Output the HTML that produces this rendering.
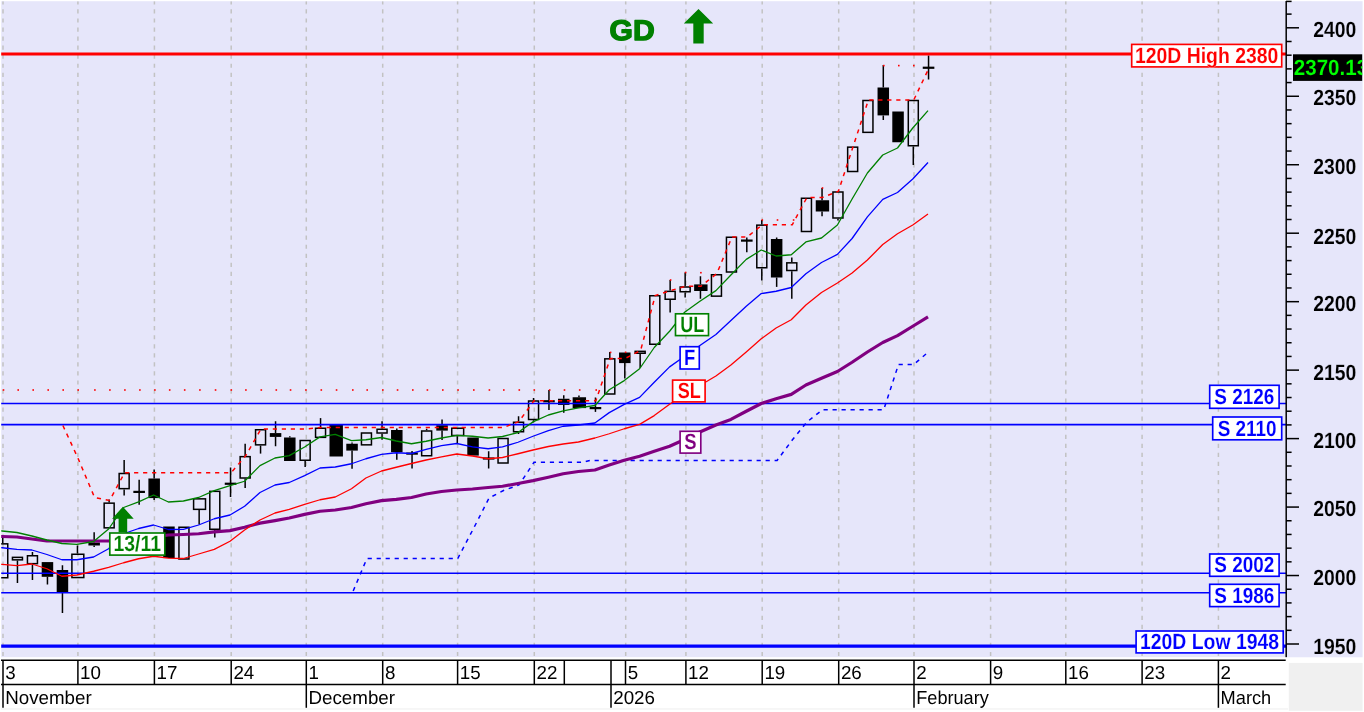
<!DOCTYPE html>
<html lang="en"><head><meta charset="utf-8"><title>GD chart</title>
<style>html,body{margin:0;padding:0;background:#fff;}body{width:1364px;height:712px;overflow:hidden;position:relative;}svg{position:absolute;left:0;top:0;display:block;}text{font-family:"Liberation Sans",Arial,sans-serif;text-rendering:geometricPrecision;}.b{font-weight:bold;}</style></head><body>
<svg width="1364" height="712" viewBox="0 0 1364 712">
<rect x="0" y="0" width="1364" height="712" fill="#ffffff"/>
<rect x="1.2" y="1.2" width="1361.4" height="656.1" fill="#e6e6fa"/>
<rect x="1288.8" y="662.9" width="73.8" height="47.9" fill="#f0f0f0"/>
<rect x="1" y="708.2" width="1287" height="1.5" fill="#f4f4f4"/>
<defs><clipPath id="plot"><rect x="1.2" y="1.2" width="1361.4" height="656.1"/></clipPath></defs>
<g clip-path="url(#plot)">
<g stroke="#c2c2c2" stroke-width="1.5" stroke-dasharray="4.2 4.85" stroke-dashoffset="0.9" fill="none">
<line x1="3" y1="1.2" x2="3" y2="657"/>
<line x1="77.9" y1="1.2" x2="77.9" y2="657"/>
<line x1="154.4" y1="1.2" x2="154.4" y2="657"/>
<line x1="231.2" y1="1.2" x2="231.2" y2="657"/>
<line x1="306.3" y1="1.2" x2="306.3" y2="657"/>
<line x1="382.7" y1="1.2" x2="382.7" y2="657"/>
<line x1="457.6" y1="1.2" x2="457.6" y2="657"/>
<line x1="534.3" y1="1.2" x2="534.3" y2="657"/>
<line x1="625.7" y1="1.2" x2="625.7" y2="657"/>
<line x1="685.9" y1="1.2" x2="685.9" y2="657"/>
<line x1="762.2" y1="1.2" x2="762.2" y2="657"/>
<line x1="838.7" y1="1.2" x2="838.7" y2="657"/>
<line x1="914" y1="1.2" x2="914" y2="657"/>
<line x1="990.6" y1="1.2" x2="990.6" y2="657"/>
<line x1="1065.8" y1="1.2" x2="1065.8" y2="657"/>
<line x1="1142.1" y1="1.2" x2="1142.1" y2="657"/>
<line x1="1218.4" y1="1.2" x2="1218.4" y2="657"/>
</g>
<g stroke="#000" stroke-width="1.5" fill="none">
<line x1="2.75" y1="537.5" x2="2.75" y2="543.1"/>
<rect x="-2.25" y="543.85" width="10.0" height="33.90" fill="none"/>
<line x1="17.45" y1="560.6" x2="17.45" y2="583"/>
<rect x="12.45" y="557.35" width="10.0" height="2.50" fill="none"/>
<line x1="32.449999999999996" y1="551.9" x2="32.449999999999996" y2="555"/>
<line x1="32.449999999999996" y1="564.4" x2="32.449999999999996" y2="580"/>
<rect x="27.45" y="555.75" width="10.0" height="7.90" fill="none"/>
<line x1="47.449999999999996" y1="576.8" x2="47.449999999999996" y2="584.4"/>
<rect x="42.45" y="562.85" width="10.0" height="13.20" fill="#000"/>
<line x1="62.449999999999996" y1="565.25" x2="62.449999999999996" y2="570"/>
<line x1="62.449999999999996" y1="592.25" x2="62.449999999999996" y2="613.1"/>
<rect x="57.45" y="570.75" width="10.0" height="20.75" fill="#000"/>
<line x1="77.45" y1="545.6" x2="77.45" y2="553.5"/>
<rect x="71.90" y="554.25" width="11.9" height="23.30" fill="none"/>
<line x1="94.14999999999999" y1="532.25" x2="94.14999999999999" y2="542.5"/>
<line x1="94.14999999999999" y1="545.5" x2="94.14999999999999" y2="546.9"/>
<rect x="89.15" y="543.25" width="10.0" height="1.50" fill="#000"/>
<line x1="109.14999999999999" y1="499.4" x2="109.14999999999999" y2="502.4"/>
<rect x="104.15" y="503.15" width="10.0" height="24.70" fill="none"/>
<line x1="124.14999999999999" y1="460" x2="124.14999999999999" y2="472.75"/>
<line x1="124.14999999999999" y1="489.4" x2="124.14999999999999" y2="495.6"/>
<rect x="119.15" y="473.50" width="10.0" height="15.15" fill="none"/>
<line x1="139.15" y1="479.75" x2="139.15" y2="504.75"/>
<rect x="133.35" y="490.80" width="11.6" height="2.2" fill="#000" stroke="none"/>
<line x1="154.15" y1="469.4" x2="154.15" y2="478.5"/>
<line x1="154.15" y1="498.1" x2="154.15" y2="500"/>
<rect x="149.15" y="479.25" width="10.0" height="18.10" fill="#000"/>
<rect x="163.95" y="527.25" width="10.0" height="30.10" fill="#000"/>
<rect x="178.95" y="527.25" width="10.0" height="31.75" fill="none"/>
<line x1="199.15" y1="510.1" x2="199.15" y2="524.4"/>
<rect x="193.60" y="498.85" width="11.9" height="10.50" fill="none"/>
<line x1="214.8" y1="530" x2="214.8" y2="537.5"/>
<rect x="209.80" y="491.35" width="10.0" height="37.90" fill="none"/>
<line x1="230.55" y1="467.5" x2="230.55" y2="496.9"/>
<rect x="224.75" y="482.65" width="11.6" height="2.2" fill="#000" stroke="none"/>
<line x1="245.15" y1="443.75" x2="245.15" y2="455.9"/>
<line x1="245.15" y1="478.75" x2="245.15" y2="488"/>
<rect x="240.15" y="456.65" width="10.0" height="21.35" fill="none"/>
<line x1="260.55" y1="445.6" x2="260.55" y2="453.6"/>
<rect x="255.55" y="429.75" width="10.0" height="15.10" fill="none"/>
<line x1="275.55" y1="421.25" x2="275.55" y2="433.1"/>
<line x1="275.55" y1="436.9" x2="275.55" y2="446.25"/>
<rect x="270.55" y="433.85" width="10.0" height="2.30" fill="#000"/>
<line x1="289.8" y1="436.25" x2="289.8" y2="437.5"/>
<rect x="284.80" y="438.25" width="10.0" height="22.00" fill="#000"/>
<line x1="305.15000000000003" y1="461" x2="305.15000000000003" y2="466.9"/>
<rect x="300.15" y="440.50" width="10.0" height="19.75" fill="none"/>
<line x1="320.55" y1="418.1" x2="320.55" y2="427.5"/>
<rect x="315.55" y="428.25" width="10.0" height="9.10" fill="none"/>
<rect x="330.25" y="425.75" width="11.9" height="30.00" fill="#000"/>
<line x1="352.05" y1="442.5" x2="352.05" y2="443.75"/>
<line x1="352.05" y1="450.6" x2="352.05" y2="468.75"/>
<rect x="347.05" y="444.50" width="10.0" height="5.35" fill="#000"/>
<rect x="361.45" y="433.00" width="10.0" height="11.85" fill="none"/>
<line x1="382.05" y1="421.25" x2="382.05" y2="428.5"/>
<line x1="382.05" y1="433.75" x2="382.05" y2="439.75"/>
<rect x="377.05" y="429.25" width="10.0" height="3.75" fill="none"/>
<line x1="396.8" y1="428.5" x2="396.8" y2="430"/>
<line x1="396.8" y1="452.25" x2="396.8" y2="459.75"/>
<rect x="391.80" y="430.75" width="10.0" height="20.75" fill="#000"/>
<line x1="412.05" y1="451" x2="412.05" y2="468.6"/>
<rect x="406.25" y="452.50" width="11.6" height="2.2" fill="#000" stroke="none"/>
<line x1="426.65000000000003" y1="428.75" x2="426.65000000000003" y2="430.25"/>
<rect x="421.65" y="431.00" width="10.0" height="24.75" fill="none"/>
<line x1="442.05" y1="419.4" x2="442.05" y2="425.25"/>
<line x1="442.05" y1="430.6" x2="442.05" y2="440"/>
<rect x="437.05" y="426.00" width="10.0" height="3.85" fill="#000"/>
<line x1="457.3" y1="436.25" x2="457.3" y2="443.5"/>
<rect x="451.75" y="428.25" width="11.9" height="7.25" fill="none"/>
<rect x="468.05" y="438.25" width="10.0" height="16.60" fill="#000"/>
<line x1="488.65000000000003" y1="451.25" x2="488.65000000000003" y2="468.5"/>
<rect x="482.85" y="457.40" width="11.6" height="2.2" fill="#000" stroke="none"/>
<rect x="498.05" y="438.50" width="10.0" height="24.50" fill="none"/>
<line x1="518.55" y1="416.25" x2="518.55" y2="421.5"/>
<line x1="518.55" y1="432.5" x2="518.55" y2="434"/>
<rect x="513.55" y="422.25" width="10.0" height="9.50" fill="none"/>
<line x1="533.55" y1="398" x2="533.55" y2="400.25"/>
<line x1="533.55" y1="420.25" x2="533.55" y2="422.5"/>
<rect x="528.55" y="401.00" width="10.0" height="18.50" fill="none"/>
<line x1="548.9499999999999" y1="390" x2="548.9499999999999" y2="410"/>
<rect x="543.15" y="400.15" width="11.6" height="2.2" fill="#000" stroke="none"/>
<line x1="563.75" y1="395.3" x2="563.75" y2="398.75"/>
<line x1="563.75" y1="404.9" x2="563.75" y2="412.75"/>
<rect x="558.75" y="399.50" width="10.0" height="4.65" fill="#000"/>
<line x1="578.9499999999999" y1="395.6" x2="578.9499999999999" y2="397.25"/>
<rect x="573.40" y="398.00" width="11.9" height="9.35" fill="#000"/>
<line x1="595.4499999999999" y1="397.5" x2="595.4499999999999" y2="411.9"/>
<rect x="589.65" y="407.00" width="11.6" height="2.2" fill="#000" stroke="none"/>
<line x1="609.8" y1="351.9" x2="609.8" y2="358.1"/>
<rect x="604.80" y="358.85" width="10.0" height="35.15" fill="none"/>
<line x1="624.8" y1="363.1" x2="624.8" y2="378.5"/>
<rect x="619.80" y="353.25" width="10.0" height="9.10" fill="#000"/>
<line x1="640.15" y1="354" x2="640.15" y2="368.1"/>
<rect x="635.15" y="351.35" width="10.0" height="1.90" fill="none"/>
<rect x="649.80" y="295.75" width="10.0" height="48.50" fill="none"/>
<line x1="670.15" y1="280" x2="670.15" y2="290.6"/>
<line x1="670.15" y1="300" x2="670.15" y2="312.5"/>
<rect x="665.15" y="291.35" width="10.0" height="7.90" fill="none"/>
<line x1="685.15" y1="272.5" x2="685.15" y2="286.25"/>
<line x1="685.15" y1="292.5" x2="685.15" y2="297.5"/>
<rect x="680.15" y="287.00" width="10.0" height="4.75" fill="none"/>
<line x1="700.4499999999999" y1="276.25" x2="700.4499999999999" y2="284.4"/>
<line x1="700.4499999999999" y1="291" x2="700.4499999999999" y2="298.75"/>
<rect x="694.90" y="285.15" width="11.9" height="5.10" fill="#000"/>
<rect x="711.45" y="274.75" width="10.0" height="21.40" fill="none"/>
<rect x="726.45" y="237.25" width="10.0" height="34.75" fill="none"/>
<line x1="746.8" y1="237.5" x2="746.8" y2="252.25"/>
<rect x="741.00" y="239.50" width="11.6" height="2.2" fill="#000" stroke="none"/>
<line x1="761.8" y1="220" x2="761.8" y2="224.4"/>
<line x1="761.8" y1="268.5" x2="761.8" y2="280.6"/>
<rect x="756.80" y="225.15" width="10.0" height="42.60" fill="none"/>
<line x1="776.65" y1="237.5" x2="776.65" y2="239"/>
<line x1="776.65" y1="277.5" x2="776.65" y2="286.9"/>
<rect x="771.65" y="239.75" width="10.0" height="37.00" fill="#000"/>
<line x1="791.8" y1="257.5" x2="791.8" y2="262.1"/>
<line x1="791.8" y1="271.25" x2="791.8" y2="298.75"/>
<rect x="786.80" y="262.85" width="10.0" height="7.65" fill="none"/>
<rect x="801.45" y="198.25" width="10.0" height="33.25" fill="none"/>
<line x1="822.05" y1="188.1" x2="822.05" y2="200.25"/>
<line x1="822.05" y1="211.5" x2="822.05" y2="216.25"/>
<rect x="816.50" y="201.00" width="11.9" height="9.75" fill="#000"/>
<line x1="837.9499999999999" y1="218.75" x2="837.9499999999999" y2="220.6"/>
<rect x="832.95" y="192.00" width="10.0" height="26.00" fill="none"/>
<rect x="847.65" y="147.15" width="10.0" height="24.35" fill="none"/>
<rect x="862.95" y="100.50" width="10.0" height="31.85" fill="none"/>
<line x1="883.3" y1="65" x2="883.3" y2="87.5"/>
<line x1="883.3" y1="115.4" x2="883.3" y2="120"/>
<rect x="878.30" y="88.25" width="10.0" height="26.40" fill="#000"/>
<rect x="893.05" y="112.25" width="10.0" height="29.25" fill="#000"/>
<line x1="913.3" y1="146.5" x2="913.3" y2="165"/>
<rect x="908.30" y="100.50" width="10.0" height="45.25" fill="none"/>
<line x1="928.55" y1="55.6" x2="928.55" y2="79.4"/>
<rect x="922.75" y="66.65" width="11.6" height="2.2" fill="#000" stroke="none"/>
</g>
<g fill="none">
<line x1="1" y1="54" x2="1286" y2="54" stroke="#ff0000" stroke-width="3.2"/>
<line x1="1" y1="646.2" x2="1286" y2="646.2" stroke="#0000ff" stroke-width="3.2"/>
<line x1="1" y1="403.5" x2="1286" y2="403.5" stroke="#0000ff" stroke-width="1.6"/>
<line x1="1" y1="424.6" x2="1286" y2="424.6" stroke="#0000ff" stroke-width="1.6"/>
<line x1="1" y1="573.2" x2="1286" y2="573.2" stroke="#0000ff" stroke-width="1.6"/>
<line x1="1" y1="592.8" x2="1286" y2="592.8" stroke="#0000ff" stroke-width="1.6"/>
</g>
<polyline points="353.20,591.00 366.90,558.50 457.75,558.50 473.50,528.50 489.10,498.00 503.50,490.50 519.00,485.00 534.00,462.30 583.00,462.30 590.00,460.40 777.10,460.40 792.25,440.00 806.90,422.00 822.50,409.75 883.75,409.75 898.50,364.40 913.75,364.40 929.00,351.50" fill="none" stroke="#0000ff" stroke-width="1.5" stroke-dasharray="4.2 4.8"/>
<polyline points="62.90,425.50 77.90,458.00 94.60,497.50 109.60,500.50 124.60,472.75 231.00,472.75 245.60,455.90 261.00,429.00 305.60,429.00 321.00,427.50 503.50,427.50 519.00,421.50 534.00,400.70 595.90,400.70 610.25,358.40 625.25,358.40 640.60,350.50 655.25,295.50 670.60,290.60 685.60,286.25 700.90,286.25 716.90,273.50 731.90,237.00 747.25,237.00 762.25,224.75 792.25,224.75 806.90,197.50 822.50,197.50 838.40,191.25 853.10,146.50 868.40,100.00 913.75,100.00 929.00,68.00" fill="none" stroke="#ff0000" stroke-width="1.5" stroke-dasharray="4.2 4.8"/>
<g fill="#ff0000">
<rect x="2.70" y="389.20" width="1.6" height="1.6"/>
<rect x="17.40" y="389.20" width="1.6" height="1.6"/>
<rect x="32.40" y="389.20" width="1.6" height="1.6"/>
<rect x="47.40" y="389.20" width="1.6" height="1.6"/>
<rect x="62.40" y="389.20" width="1.6" height="1.6"/>
<rect x="77.40" y="389.20" width="1.6" height="1.6"/>
<rect x="94.10" y="389.20" width="1.6" height="1.6"/>
<rect x="109.10" y="389.20" width="1.6" height="1.6"/>
<rect x="124.10" y="389.20" width="1.6" height="1.6"/>
<rect x="139.10" y="389.20" width="1.6" height="1.6"/>
<rect x="154.10" y="389.20" width="1.6" height="1.6"/>
<rect x="168.90" y="389.20" width="1.6" height="1.6"/>
<rect x="183.90" y="389.20" width="1.6" height="1.6"/>
<rect x="199.10" y="389.20" width="1.6" height="1.6"/>
<rect x="214.75" y="389.20" width="1.6" height="1.6"/>
<rect x="230.50" y="389.20" width="1.6" height="1.6"/>
<rect x="245.10" y="389.20" width="1.6" height="1.6"/>
<rect x="260.50" y="389.20" width="1.6" height="1.6"/>
<rect x="275.50" y="389.20" width="1.6" height="1.6"/>
<rect x="289.75" y="389.20" width="1.6" height="1.6"/>
<rect x="305.10" y="389.20" width="1.6" height="1.6"/>
<rect x="320.50" y="389.20" width="1.6" height="1.6"/>
<rect x="335.75" y="389.20" width="1.6" height="1.6"/>
<rect x="352.00" y="389.20" width="1.6" height="1.6"/>
<rect x="366.40" y="389.20" width="1.6" height="1.6"/>
<rect x="382.00" y="389.20" width="1.6" height="1.6"/>
<rect x="396.75" y="389.20" width="1.6" height="1.6"/>
<rect x="412.00" y="389.20" width="1.6" height="1.6"/>
<rect x="426.60" y="389.20" width="1.6" height="1.6"/>
<rect x="442.00" y="389.20" width="1.6" height="1.6"/>
<rect x="457.25" y="389.20" width="1.6" height="1.6"/>
<rect x="473.00" y="389.20" width="1.6" height="1.6"/>
<rect x="488.60" y="389.20" width="1.6" height="1.6"/>
<rect x="503.00" y="389.20" width="1.6" height="1.6"/>
<rect x="518.50" y="389.20" width="1.6" height="1.6"/>
<rect x="533.50" y="389.20" width="1.6" height="1.6"/>
<rect x="548.90" y="389.20" width="1.6" height="1.6"/>
<rect x="563.70" y="389.20" width="1.6" height="1.6"/>
<rect x="578.90" y="389.20" width="1.6" height="1.6"/>
<rect x="595.40" y="389.20" width="1.6" height="1.6"/>
<rect x="609.80" y="351.60" width="1.6" height="1.6"/>
<rect x="624.80" y="351.50" width="1.6" height="1.6"/>
<rect x="669.80" y="279.20" width="1.6" height="1.6"/>
<rect x="684.80" y="271.70" width="1.6" height="1.6"/>
<rect x="700.10" y="271.90" width="1.6" height="1.6"/>
<rect x="761.50" y="219.20" width="1.6" height="1.6"/>
<rect x="776.70" y="219.20" width="1.6" height="1.6"/>
<rect x="792.80" y="219.20" width="1.6" height="1.6"/>
<rect x="821.70" y="187.20" width="1.6" height="1.6"/>
<rect x="883.00" y="64.80" width="1.6" height="1.6"/>
<rect x="898.00" y="64.80" width="1.6" height="1.6"/>
<rect x="913.00" y="64.80" width="1.6" height="1.6"/>
</g>
<polyline points="-13.50,536.30 2.20,536.50 16.90,537.00 31.90,539.00 46.90,541.00 61.90,541.00 76.90,541.00 93.60,541.00 108.60,541.00 123.60,540.00 138.60,538.50 153.60,537.00 168.40,535.00 183.40,534.50 198.60,533.75 214.25,531.90 230.00,530.60 244.60,527.25 260.00,523.10 275.00,520.60 289.25,518.00 304.60,514.40 320.00,511.25 335.25,510.00 351.50,507.50 365.90,503.75 381.50,500.60 396.25,499.40 411.50,497.50 426.10,494.00 441.50,491.50 456.75,490.00 472.50,489.00 488.10,487.50 502.50,486.25 518.00,483.50 533.00,480.60 548.40,477.25 563.20,473.75 578.40,471.50 594.90,470.00 609.25,465.00 624.25,460.25 639.60,456.25 654.25,451.25 669.60,446.25 684.60,439.50 699.90,432.00 715.90,425.00 730.90,419.40 746.25,411.25 761.25,403.50 776.10,398.75 791.25,394.40 805.90,385.00 821.50,378.20 837.40,371.50 852.10,362.25 867.40,352.00 882.75,342.50 897.50,335.60 912.75,326.25 928.00,316.90" fill="none" stroke="#800080" stroke-width="3.2" stroke-linejoin="round"/>
<polyline points="-13.50,564.20 2.20,564.40 16.90,565.60 31.90,564.00 46.90,568.75 61.90,576.25 76.90,575.00 93.60,571.25 108.60,567.40 123.60,562.75 138.60,558.75 153.60,556.25 168.40,558.10 183.40,558.50 198.60,554.00 214.25,549.40 230.00,541.25 244.60,530.00 260.00,520.00 275.00,513.00 289.25,509.40 304.60,504.40 320.00,499.75 335.25,497.00 351.50,488.75 365.90,478.00 381.50,471.00 396.25,467.25 411.50,463.50 426.10,460.00 441.50,456.90 456.75,454.00 472.50,456.00 488.10,458.75 502.50,457.50 518.00,453.75 533.00,450.00 548.40,446.50 563.20,444.00 578.40,442.00 594.90,438.00 609.25,433.75 624.25,428.75 639.60,424.40 654.25,415.60 669.60,404.20 684.60,394.50 699.90,385.50 715.90,376.00 730.90,365.00 746.25,351.90 761.25,338.75 776.10,328.00 791.25,319.75 805.90,305.00 821.50,292.50 837.40,283.00 852.10,273.00 867.40,260.00 882.75,244.50 897.50,233.75 912.75,225.00 928.00,214.00" fill="none" stroke="#ff0000" stroke-width="1.3" stroke-linejoin="round"/>
<polyline points="-13.50,547.30 2.20,547.75 16.90,549.40 31.90,550.00 46.90,554.50 61.90,559.75 76.90,559.75 93.60,557.00 108.60,548.75 123.60,533.75 138.60,528.50 153.60,525.00 168.40,529.50 183.40,529.40 198.60,525.00 214.25,518.75 230.00,515.00 244.60,506.25 260.00,492.50 275.00,485.00 289.25,482.50 304.60,475.60 320.00,468.00 335.25,467.00 351.50,463.75 365.90,458.75 381.50,454.40 396.25,452.75 411.50,453.50 426.10,449.40 441.50,445.60 456.75,443.50 472.50,446.90 488.10,448.75 502.50,446.90 518.00,442.25 533.00,436.25 548.40,430.60 563.20,426.25 578.40,425.00 594.90,423.00 609.25,412.60 624.25,404.40 639.60,397.40 654.25,382.25 669.60,366.90 684.60,356.25 699.90,345.50 715.90,334.50 730.90,320.60 746.25,306.25 761.25,293.60 776.10,291.25 791.25,287.50 805.90,273.75 821.50,262.50 837.40,254.40 852.10,238.50 867.40,216.90 882.75,199.40 897.50,192.50 912.75,179.00 928.00,162.50" fill="none" stroke="#0000ff" stroke-width="1.3" stroke-linejoin="round"/>
<polyline points="-13.50,530.60 2.20,531.00 16.90,532.50 31.90,536.00 46.90,540.00 61.90,543.50 76.90,544.40 93.60,541.50 108.60,529.00 123.60,507.50 138.60,501.90 153.60,495.00 168.40,502.00 183.40,501.00 198.60,497.50 214.25,490.60 230.00,485.60 244.60,481.25 260.00,465.60 275.00,458.00 289.25,455.60 304.60,447.00 320.00,436.90 335.25,434.40 351.50,440.60 365.90,439.75 381.50,437.50 396.25,441.00 411.50,443.75 426.10,441.25 441.50,438.00 456.75,435.40 472.50,436.25 488.10,438.00 502.50,436.50 518.00,432.50 533.00,421.90 548.40,415.00 563.20,410.90 578.40,407.90 594.90,405.50 609.25,389.75 624.25,380.60 639.60,368.75 654.25,347.50 669.60,331.25 684.60,312.25 699.90,301.25 715.90,290.60 730.90,275.00 746.25,259.40 761.25,250.00 776.10,256.00 791.25,254.75 805.90,241.90 821.50,238.00 837.40,225.00 852.10,199.00 867.40,173.00 882.75,155.00 897.50,148.00 912.75,128.00 928.00,110.60" fill="none" stroke="#008000" stroke-width="1.3" stroke-linejoin="round"/>
<polygon points="698.50,9.00 713.20,23.50 703.70,23.50 703.70,43.50 693.30,43.50 693.30,23.50 683.80,23.50" fill="#008000"/>
<polygon points="122.90,506.70 133.70,518.70 127.20,518.70 127.20,532.20 118.60,532.20 118.60,518.70 112.10,518.70" fill="#008000"/>
<rect x="109.80" y="533.00" width="55.00" height="22.10" fill="#fff" stroke="#008000" stroke-width="1.65"/>
<text class="b" x="0" y="0" font-size="22" fill="#008000" stroke="#fff" stroke-width="0.12" text-anchor="middle" transform="translate(137.20,551.10) scale(0.882,1)">13/11</text>
<rect x="675.50" y="313.80" width="33.00" height="21.80" fill="#fff" stroke="#008000" stroke-width="1.65"/>
<text class="b" x="0" y="0" font-size="22" fill="#008000" stroke="#fff" stroke-width="0.12" text-anchor="middle" transform="translate(692.30,331.60) scale(0.820,1)">UL</text>
<rect x="680.10" y="346.70" width="19.20" height="22.30" fill="#fff" stroke="#0000ff" stroke-width="1.65"/>
<text class="b" x="0" y="0" font-size="22" fill="#0000ff" stroke="#fff" stroke-width="0.12" text-anchor="middle" transform="translate(689.60,365.00) scale(0.838,1)">F</text>
<rect x="672.60" y="380.10" width="32.50" height="21.80" fill="#fff" stroke="#ff0000" stroke-width="1.65"/>
<text class="b" x="0" y="0" font-size="22" fill="#ff0000" stroke="#fff" stroke-width="0.12" text-anchor="middle" transform="translate(689.30,397.90) scale(0.820,1)">SL</text>
<rect x="680.10" y="431.30" width="20.70" height="21.80" fill="#fff" stroke="#800080" stroke-width="1.65"/>
<text class="b" x="0" y="0" font-size="22" fill="#800080" stroke="#fff" stroke-width="0.12" text-anchor="middle" transform="translate(690.35,449.10) scale(0.838,1)">S</text>
<rect x="1131.70" y="44.40" width="150.00" height="22.50" fill="#fff" stroke="#ff0000" stroke-width="1.65"/>
<text class="b" x="0" y="0" font-size="22" fill="#ff0000" stroke="#fff" stroke-width="0.12" text-anchor="middle" transform="translate(1206.60,62.90) scale(0.882,1)">120D High 2380</text>
<rect x="1209.70" y="385.30" width="69.40" height="23.00" fill="#fff" stroke="#0000ff" stroke-width="1.65"/>
<text class="b" x="0" y="0" font-size="22" fill="#0000ff" stroke="#fff" stroke-width="0.12" text-anchor="middle" transform="translate(1244.30,404.30) scale(0.860,1)">S 2126</text>
<rect x="1212.70" y="417.00" width="69.00" height="22.80" fill="#fff" stroke="#0000ff" stroke-width="1.65"/>
<text class="b" x="0" y="0" font-size="22" fill="#0000ff" stroke="#fff" stroke-width="0.12" text-anchor="middle" transform="translate(1247.10,435.80) scale(0.860,1)">S 2110</text>
<rect x="1209.70" y="554.00" width="69.40" height="22.30" fill="#fff" stroke="#0000ff" stroke-width="1.65"/>
<text class="b" x="0" y="0" font-size="22" fill="#0000ff" stroke="#fff" stroke-width="0.12" text-anchor="middle" transform="translate(1244.30,572.30) scale(0.860,1)">S 2002</text>
<rect x="1209.70" y="584.30" width="69.40" height="22.30" fill="#fff" stroke="#0000ff" stroke-width="1.65"/>
<text class="b" x="0" y="0" font-size="22" fill="#0000ff" stroke="#fff" stroke-width="0.12" text-anchor="middle" transform="translate(1244.30,602.60) scale(0.860,1)">S 1986</text>
<rect x="1136.10" y="631.00" width="147.10" height="21.90" fill="#fff" stroke="#0000ff" stroke-width="1.65"/>
<text class="b" x="0" y="0" font-size="22" fill="#0000ff" stroke="#fff" stroke-width="0.12" text-anchor="middle" transform="translate(1209.55,648.90) scale(0.882,1)">120D Low 1948</text>
<text class="b" x="0" y="0" font-size="28.4" fill="#008000" stroke="#008000" stroke-width="1.3" stroke-linejoin="round" text-anchor="middle" transform="translate(632.1,40.2) scale(1.06,1)">GD</text>
</g>
<g stroke="#000" stroke-width="1.5" fill="none">
<line x1="1286.2" y1="1" x2="1286.2" y2="657.3"/>
<line x1="1286" y1="1.4" x2="1291.6" y2="1.4"/>
<line x1="1286" y1="14.11" x2="1291.6" y2="14.11"/>
<line x1="1286" y1="27.80" x2="1299" y2="27.80"/>
<line x1="1286" y1="41.49" x2="1291.6" y2="41.49"/>
<line x1="1286" y1="55.19" x2="1291.6" y2="55.19"/>
<line x1="1286" y1="68.88" x2="1291.6" y2="68.88"/>
<line x1="1286" y1="82.57" x2="1291.6" y2="82.57"/>
<line x1="1286" y1="96.27" x2="1299" y2="96.27"/>
<line x1="1286" y1="109.96" x2="1291.6" y2="109.96"/>
<line x1="1286" y1="123.65" x2="1291.6" y2="123.65"/>
<line x1="1286" y1="137.35" x2="1291.6" y2="137.35"/>
<line x1="1286" y1="151.04" x2="1291.6" y2="151.04"/>
<line x1="1286" y1="164.73" x2="1299" y2="164.73"/>
<line x1="1286" y1="178.43" x2="1291.6" y2="178.43"/>
<line x1="1286" y1="192.12" x2="1291.6" y2="192.12"/>
<line x1="1286" y1="205.81" x2="1291.6" y2="205.81"/>
<line x1="1286" y1="219.51" x2="1291.6" y2="219.51"/>
<line x1="1286" y1="233.20" x2="1299" y2="233.20"/>
<line x1="1286" y1="246.89" x2="1291.6" y2="246.89"/>
<line x1="1286" y1="260.59" x2="1291.6" y2="260.59"/>
<line x1="1286" y1="274.28" x2="1291.6" y2="274.28"/>
<line x1="1286" y1="287.97" x2="1291.6" y2="287.97"/>
<line x1="1286" y1="301.67" x2="1299" y2="301.67"/>
<line x1="1286" y1="315.36" x2="1291.6" y2="315.36"/>
<line x1="1286" y1="329.05" x2="1291.6" y2="329.05"/>
<line x1="1286" y1="342.75" x2="1291.6" y2="342.75"/>
<line x1="1286" y1="356.44" x2="1291.6" y2="356.44"/>
<line x1="1286" y1="370.13" x2="1299" y2="370.13"/>
<line x1="1286" y1="383.83" x2="1291.6" y2="383.83"/>
<line x1="1286" y1="397.52" x2="1291.6" y2="397.52"/>
<line x1="1286" y1="411.21" x2="1291.6" y2="411.21"/>
<line x1="1286" y1="424.91" x2="1291.6" y2="424.91"/>
<line x1="1286" y1="438.60" x2="1299" y2="438.60"/>
<line x1="1286" y1="452.29" x2="1291.6" y2="452.29"/>
<line x1="1286" y1="465.99" x2="1291.6" y2="465.99"/>
<line x1="1286" y1="479.68" x2="1291.6" y2="479.68"/>
<line x1="1286" y1="493.37" x2="1291.6" y2="493.37"/>
<line x1="1286" y1="507.07" x2="1299" y2="507.07"/>
<line x1="1286" y1="520.76" x2="1291.6" y2="520.76"/>
<line x1="1286" y1="534.45" x2="1291.6" y2="534.45"/>
<line x1="1286" y1="548.15" x2="1291.6" y2="548.15"/>
<line x1="1286" y1="561.84" x2="1291.6" y2="561.84"/>
<line x1="1286" y1="575.53" x2="1299" y2="575.53"/>
<line x1="1286" y1="589.23" x2="1291.6" y2="589.23"/>
<line x1="1286" y1="602.92" x2="1291.6" y2="602.92"/>
<line x1="1286" y1="616.61" x2="1291.6" y2="616.61"/>
<line x1="1286" y1="630.31" x2="1291.6" y2="630.31"/>
<line x1="1286" y1="644.00" x2="1299" y2="644.00"/>
</g>
<text class="b" x="0" y="0" font-size="22" fill="#000" stroke="#e6e6fa" stroke-width="0.12" text-anchor="end" transform="translate(1356.4,654.20) scale(0.882,1)">1950</text>
<text class="b" x="0" y="0" font-size="22" fill="#000" stroke="#e6e6fa" stroke-width="0.12" text-anchor="end" transform="translate(1356.4,584.73) scale(0.882,1)">2000</text>
<text class="b" x="0" y="0" font-size="22" fill="#000" stroke="#e6e6fa" stroke-width="0.12" text-anchor="end" transform="translate(1356.4,516.27) scale(0.882,1)">2050</text>
<text class="b" x="0" y="0" font-size="22" fill="#000" stroke="#e6e6fa" stroke-width="0.12" text-anchor="end" transform="translate(1356.4,447.80) scale(0.882,1)">2100</text>
<text class="b" x="0" y="0" font-size="22" fill="#000" stroke="#e6e6fa" stroke-width="0.12" text-anchor="end" transform="translate(1356.4,379.83) scale(0.882,1)">2150</text>
<text class="b" x="0" y="0" font-size="22" fill="#000" stroke="#e6e6fa" stroke-width="0.12" text-anchor="end" transform="translate(1356.4,310.87) scale(0.882,1)">2200</text>
<text class="b" x="0" y="0" font-size="22" fill="#000" stroke="#e6e6fa" stroke-width="0.12" text-anchor="end" transform="translate(1356.4,243.70) scale(0.882,1)">2250</text>
<text class="b" x="0" y="0" font-size="22" fill="#000" stroke="#e6e6fa" stroke-width="0.12" text-anchor="end" transform="translate(1356.4,173.93) scale(0.882,1)">2300</text>
<text class="b" x="0" y="0" font-size="22" fill="#000" stroke="#e6e6fa" stroke-width="0.12" text-anchor="end" transform="translate(1356.4,105.47) scale(0.882,1)">2350</text>
<text class="b" x="0" y="0" font-size="22" fill="#000" stroke="#e6e6fa" stroke-width="0.12" text-anchor="end" transform="translate(1356.4,37.00) scale(0.882,1)">2400</text>
<rect x="1293" y="54.3" width="69.2" height="26.6" fill="#000"/>
<svg x="1293" y="54.3" width="69.2" height="26.6" viewBox="0 0 69.2 26.6" overflow="hidden">
<text class="b" x="0" y="0" font-size="22" fill="#00ff00" stroke="#000" stroke-width="0.12" transform="translate(0.8,21.1) scale(0.935,1)">2370.13</text>
</svg>
<rect x="1" y="657.6" width="1286.6" height="50" fill="#fff"/>
<g stroke="#000" stroke-width="1.5" fill="none">
<line x1="1" y1="660.2" x2="1285.7" y2="660.2"/>
<line x1="1" y1="684.4" x2="1285.7" y2="684.4"/>
<line x1="3" y1="660.2" x2="3" y2="707.8"/>
<line x1="77.9" y1="660.2" x2="77.9" y2="684.4"/>
<line x1="154.4" y1="660.2" x2="154.4" y2="684.4"/>
<line x1="231.2" y1="660.2" x2="231.2" y2="684.4"/>
<line x1="306.3" y1="660.2" x2="306.3" y2="707.8"/>
<line x1="382.7" y1="660.2" x2="382.7" y2="684.4"/>
<line x1="457.6" y1="660.2" x2="457.6" y2="684.4"/>
<line x1="534.3" y1="660.2" x2="534.3" y2="684.4"/>
<line x1="564.3" y1="660.2" x2="564.3" y2="684.4"/>
<line x1="611" y1="660.2" x2="611" y2="707.8"/>
<line x1="625.5" y1="660.2" x2="625.5" y2="684.4"/>
<line x1="685.9" y1="660.2" x2="685.9" y2="684.4"/>
<line x1="762.2" y1="660.2" x2="762.2" y2="684.4"/>
<line x1="838.7" y1="660.2" x2="838.7" y2="684.4"/>
<line x1="914" y1="660.2" x2="914" y2="707.8"/>
<line x1="990.6" y1="660.2" x2="990.6" y2="684.4"/>
<line x1="1065.8" y1="660.2" x2="1065.8" y2="684.4"/>
<line x1="1142.1" y1="660.2" x2="1142.1" y2="684.4"/>
<line x1="1218.4" y1="660.2" x2="1218.4" y2="707.8"/>
</g>
<text x="5.20" y="679.2" font-size="18.75" fill="#000">3</text>
<text x="80.10" y="679.2" font-size="18.75" fill="#000">10</text>
<text x="156.60" y="679.2" font-size="18.75" fill="#000">17</text>
<text x="233.40" y="679.2" font-size="18.75" fill="#000">24</text>
<text x="308.50" y="679.2" font-size="18.75" fill="#000">1</text>
<text x="384.90" y="679.2" font-size="18.75" fill="#000">8</text>
<text x="459.80" y="679.2" font-size="18.75" fill="#000">15</text>
<text x="536.50" y="679.2" font-size="18.75" fill="#000">22</text>
<text x="627.70" y="679.2" font-size="18.75" fill="#000">5</text>
<text x="688.10" y="679.2" font-size="18.75" fill="#000">12</text>
<text x="764.40" y="679.2" font-size="18.75" fill="#000">19</text>
<text x="840.90" y="679.2" font-size="18.75" fill="#000">26</text>
<text x="916.20" y="679.2" font-size="18.75" fill="#000">2</text>
<text x="992.80" y="679.2" font-size="18.75" fill="#000">9</text>
<text x="1068.00" y="679.2" font-size="18.75" fill="#000">16</text>
<text x="1144.30" y="679.2" font-size="18.75" fill="#000">23</text>
<text x="1220.60" y="679.2" font-size="18.75" fill="#000">2</text>
<text x="0" y="0" font-size="18.75" fill="#000" transform="translate(5.20,703.6) scale(1,1)">November</text>
<text x="0" y="0" font-size="18.75" fill="#000" transform="translate(308.50,703.6) scale(1,1)">December</text>
<text x="0" y="0" font-size="18.75" fill="#000" transform="translate(613.20,703.6) scale(1,1)">2026</text>
<text x="0" y="0" font-size="18.75" fill="#000" transform="translate(916.20,703.6) scale(0.968,1)">February</text>
<text x="0" y="0" font-size="18.75" fill="#000" transform="translate(1220.60,703.6) scale(0.972,1)">March</text>
</svg>
</body></html>
